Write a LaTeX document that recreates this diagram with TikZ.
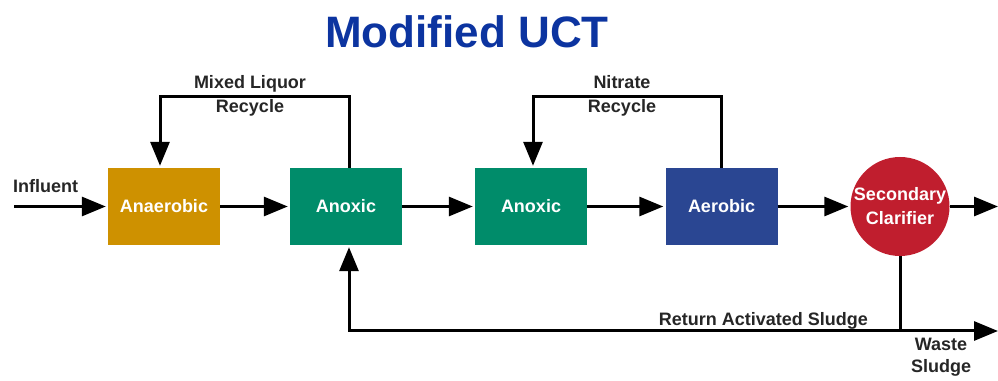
\documentclass[tikz,border=0pt]{standalone}
\usepackage{fontspec}
\setmainfont{Liberation Sans}
\usetikzlibrary{arrows.meta}
\definecolor{ucttitle}{RGB}{12,52,160}
\definecolor{anagold}{RGB}{206,145,0}
\definecolor{anxgreen}{RGB}{0,140,106}
\definecolor{aerblue}{RGB}{42,70,146}
\definecolor{clarred}{RGB}{192,30,46}
\tikzset{
  tank/.style={rectangle, minimum width=112pt, minimum height=77pt, inner sep=0pt,
    text=white, font=\fontsize{18}{22}\selectfont\bfseries},
  flow/.style={line width=3pt, -{Triangle[length=24pt,width=19pt]}, shorten >=2pt},
  pipe/.style={line width=3pt},
  lbl/.style={text=black!85, align=center, inner sep=0pt, font=\fontsize{18}{24}\selectfont\bfseries}
}
\begin{document}
\begin{tikzpicture}[x=1pt,y=1pt]
\useasboundingbox (0,0) rectangle (998,380);
\node[anchor=base, text=ucttitle, font=\fontsize{44}{48}\selectfont\bfseries] (title) at (467,332) {Modified UCT};

\node[tank, fill=anagold] (ana) at (164,173.5) {Anaerobic};
\node[tank, fill=anxgreen] (anx1) at (346,173.5) {Anoxic};
\node[tank, fill=anxgreen] (anx2) at (531,173.5) {Anoxic};
\node[tank, fill=aerblue] (aer) at (721.5,173.5) {Aerobic};
\node[circle, fill=clarred, minimum size=96pt, inner sep=0pt, text=white, align=center,
  font=\fontsize{18}{24}\selectfont\bfseries] (clar) at (900,173.5) {Secondary\\Clarifier};

\coordinate (inf) at (14,173.5);
\coordinate (eff) at (1000,173.5);
\coordinate (waste) at (1000,49);
\node[lbl, anchor=base west] (inflbl) at (13,187) {Influent};

% main line
\draw[flow] (inf) -- (ana);
\draw[flow] (ana) -- (anx1);
\draw[flow] (anx1) -- (anx2);
\draw[flow] (anx2) -- (aer);
\draw[flow] (aer) -- (clar);
\draw[flow] (clar) -- (eff);

% recycles
\draw[flow] ([xshift=3pt]anx1.north) -- ++(0,71) -| ([xshift=-4pt]ana.north);
\node[lbl] (mlr) at (250,284) {Mixed Liquor\\Recycle};
\draw[flow] (aer.north) -- ++(0,71) -| ([xshift=2pt]anx2.north);
\node[lbl] (nr) at (622,284) {Nitrate\\Recycle};

% sludge
\draw[pipe] (clar.south) -- (clar.south |- waste) coordinate (split);
\draw[flow] (split) -| ([xshift=3pt]anx1.south);
\draw[flow] (split) -- (waste);
\node[lbl, anchor=base east] (ras) at (868,54) {Return Activated Sludge};
\node[lbl, font=\fontsize{18}{22}\selectfont\bfseries] (wsl) at (941,23) {Waste\\Sludge};
\end{tikzpicture}
\end{document}
